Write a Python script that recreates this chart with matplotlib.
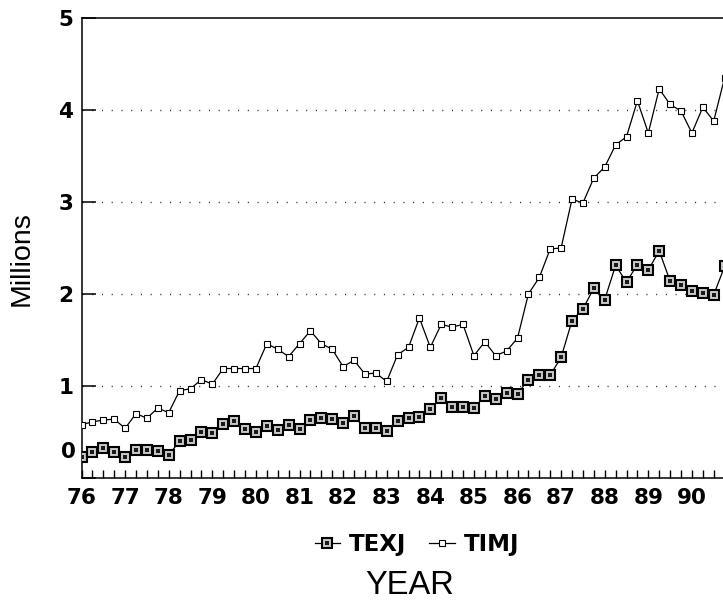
import numpy as np
import matplotlib
matplotlib.use("Agg")
import matplotlib.pyplot as plt
from matplotlib.ticker import MultipleLocator
from matplotlib.legend_handler import HandlerTuple
from matplotlib.lines import Line2D

plt.rcParams['font.family'] = ['Liberation Sans', 'DejaVu Sans']

# quarterly periods starting 1976
start_year = 76
n_quarters = 60
periods = start_year + np.arange(n_quarters) / 4.0

texj = [0.23, 0.28, 0.33, 0.28, 0.23, 0.30, 0.30, 0.29, 0.25, 0.40,
        0.41, 0.50, 0.49, 0.59, 0.62, 0.53, 0.50, 0.56, 0.52, 0.58,
        0.53, 0.63, 0.65, 0.64, 0.60, 0.67, 0.54, 0.54, 0.51, 0.62,
        0.65, 0.66, 0.75, 0.87, 0.77, 0.77, 0.76, 0.89, 0.855, 0.92,
        0.915, 1.07, 1.12, 1.12, 1.31, 1.71, 1.84, 2.06, 1.94, 2.31,
        2.13, 2.32, 2.26, 2.47, 2.14, 2.10, 2.03, 2.01, 1.99, 2.30]

timj = [0.58, 0.61, 0.63, 0.64, 0.54, 0.70, 0.65, 0.76, 0.71, 0.95,
        0.97, 1.07, 1.02, 1.19, 1.19, 1.19, 1.19, 1.46, 1.40, 1.32,
        1.46, 1.60, 1.46, 1.40, 1.21, 1.28, 1.13, 1.14, 1.05, 1.34,
        1.42, 1.74, 1.42, 1.67, 1.64, 1.67, 1.33, 1.48, 1.33, 1.38,
        1.52, 2.00, 2.18, 2.49, 2.50, 3.03, 2.99, 3.26, 3.38, 3.62,
        3.71, 4.10, 3.75, 4.23, 4.06, 3.99, 3.75, 4.03, 3.88, 4.35]

year_labels = [str(y) for y in range(76, 91)]
y_labels = ['0', '1', '2', '3', '4', '5']

W, H = 723, 609
fig = plt.figure(figsize=(W / 100, H / 100), dpi=100)
left_px, bottom_px, top_px = 81.5, 478, 18
px_per_year = 43.6
xmin, xmax = 76, 91
ax = fig.add_axes([left_px / W, 1 - bottom_px / H,
                   (xmax - xmin) * px_per_year / W, (bottom_px - top_px) / H])
ax.set_xlim(xmin, xmax)
ax.set_ylim(0, 5)

tick_font = {'family': 'DejaVu Sans', 'weight': 'bold', 'size': 15.5}

# grid lines
for g in [1, 2, 3, 4]:
    ax.axhline(g, color='#333333', lw=1.0, linestyle=(0, (0.8, 6.2)), zorder=1)

# TIMJ
ax.plot(periods, timj, color='black', lw=0.9, marker='s', markersize=4.5,
        markerfacecolor='white', markeredgecolor='black', markeredgewidth=0.8, zorder=3)
# TEXJ
ax.plot(periods, texj, color='black', lw=0.9, marker='s', markersize=7.2,
        markerfacecolor='#c8c8c8', markeredgecolor='black', markeredgewidth=1.5, zorder=4)
ax.plot(periods, texj, linestyle='none', marker='s', markersize=3.2,
        markerfacecolor='#1a1a1a', markeredgewidth=0, zorder=5)

ax.spines['right'].set_visible(False)
for s in ['left', 'bottom', 'top']:
    ax.spines[s].set_linewidth(1.1)

ax.set_xticks(np.arange(76, 91))
ax.set_xticklabels(year_labels, fontdict=tick_font)
ax.xaxis.set_minor_locator(MultipleLocator(0.25))
ax.tick_params(axis='x', which='both', direction='in', length=6, width=1.0,
               pad=7, top=False)

ax.set_yticks(range(6))
ax.set_yticklabels([''] + y_labels[1:], fontdict=tick_font)
ax.tick_params(axis='y', which='major', direction='in', length=10, width=1.1,
               pad=6, right=False)
# zero label sits a bit above the axis in the original
ax.annotate(y_labels[0], xy=(0, 0), xycoords=ax.get_yaxis_transform(),
            xytext=(-4, 19), textcoords='offset points', ha='right', va='center',
            **tick_font)

fig.text(22 / W, 1 - 259 / H, 'Millions', rotation=90, ha='center', va='center',
         fontsize=20.5)
fig.text(410 / W, 1 - 585 / H, 'YEAR', ha='center', va='center', fontsize=23.5)

h_texj_a = Line2D([], [], color='black', lw=0.9, marker='s', markersize=7.2,
                  markerfacecolor='#c8c8c8', markeredgecolor='black', markeredgewidth=1.5)
h_texj_b = Line2D([], [], linestyle='none', marker='s', markersize=3.2,
                  markerfacecolor='#1a1a1a', markeredgewidth=0)
h_timj = Line2D([], [], color='black', lw=0.9, marker='s', markersize=4.5,
                markerfacecolor='white', markeredgecolor='black', markeredgewidth=0.8)
leg = fig.legend([(h_texj_a, h_texj_b), h_timj], ['TEXJ', 'TIMJ'],
                 handler_map={tuple: HandlerTuple(ndivide=1, pad=0)},
                 loc='center', bbox_to_anchor=(417 / W, 1 - 545 / H), ncol=2,
                 frameon=False, handlelength=1.1, handletextpad=0.4, columnspacing=1.0,
                 prop={'family': 'DejaVu Sans', 'size': 16.5, 'weight': 'bold'})

fig.savefig('out.png', dpi=100)
